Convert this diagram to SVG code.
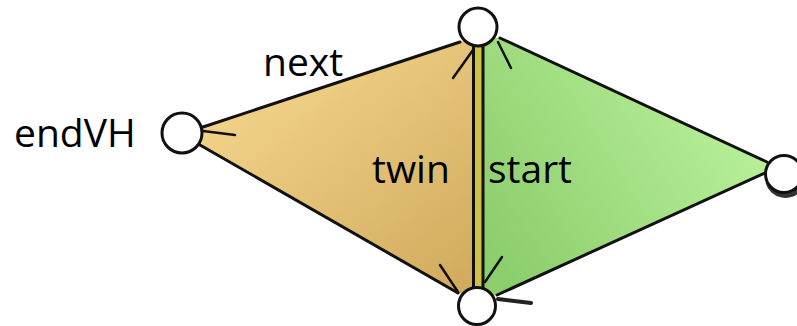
<svg xmlns="http://www.w3.org/2000/svg" width="797" height="326" viewBox="0 0 797 326">
<defs>
<linearGradient id="tan" x1="0.2" y1="0.1" x2="1" y2="1">
<stop offset="0" stop-color="#f3d48c"/>
<stop offset="1" stop-color="#d0a95b"/>
</linearGradient>
<linearGradient id="grn" x1="0.9" y1="0.3" x2="0" y2="0.8">
<stop offset="0" stop-color="#b8f099"/>
<stop offset="1" stop-color="#8ccd6c"/>
</linearGradient>
<style>
.edge{stroke:#111;stroke-width:3;fill:none;stroke-linecap:round}
.tick{stroke:#111;stroke-width:2.5;fill:none;stroke-linecap:round}
.v{fill:#fff;stroke:#111;stroke-width:3}
.lbl{font-family:"Open Sans","Noto Sans",sans-serif;font-size:39px;fill:#000}
</style>
</defs>
<g id="faces">
<polygon points="196,130 203,127 460,42 474,38 474,296 458,293 200,145 196,138" fill="url(#tan)"/>
<polygon points="483,38 500,38 767,162 775,170 765,173 497,295 483,296" fill="url(#grn)"/>
<rect x="474" y="44" width="9" height="242" fill="#cfc04a"/>
</g>
<g id="connectors">
<line class="edge" x1="203" y1="127" x2="460" y2="42"/>
<line class="edge" x1="200" y1="145" x2="458" y2="293"/>
<line class="edge" x1="500" y1="38" x2="767" y2="162"/>
<line class="edge" x1="497" y1="295" x2="765" y2="173"/>
<line class="edge" x1="473.5" y1="44" x2="473.5" y2="288"/>
<line class="edge" x1="483" y1="44" x2="483" y2="288"/>
<line class="tick" x1="203" y1="131" x2="235" y2="135"/>
<line class="tick" x1="473" y1="50" x2="453" y2="78"/>
<line class="tick" x1="498" y1="42" x2="511" y2="68"/>
<line class="tick" x1="440" y1="265" x2="458" y2="292"/>
<line class="tick" x1="502" y1="257" x2="485" y2="282"/>
<line stroke="#222" stroke-width="4" stroke-linecap="round" x1="498" y1="299" x2="531" y2="303"/>
</g>
<g id="v-top"><circle class="v" cx="478" cy="27" r="19"/></g>
<g id="v-left"><circle class="v" cx="182" cy="133" r="20"/></g>
<g id="v-bottom"><circle class="v" cx="477" cy="306" r="18.5"/></g>
<g id="v-right"><path d="M768,182 A18,18 0 0 0 800,188" fill="none" stroke="#333" stroke-width="5"/><circle class="v" cx="784" cy="174" r="18.5"/></g>
<g id="labels">
<text class="lbl" x="263" y="76">next</text>
<text class="lbl" x="14" y="147">endVH</text>
<text class="lbl" x="372" y="183">twin</text>
<text class="lbl" x="488" y="183">start</text>
</g>
</svg>
